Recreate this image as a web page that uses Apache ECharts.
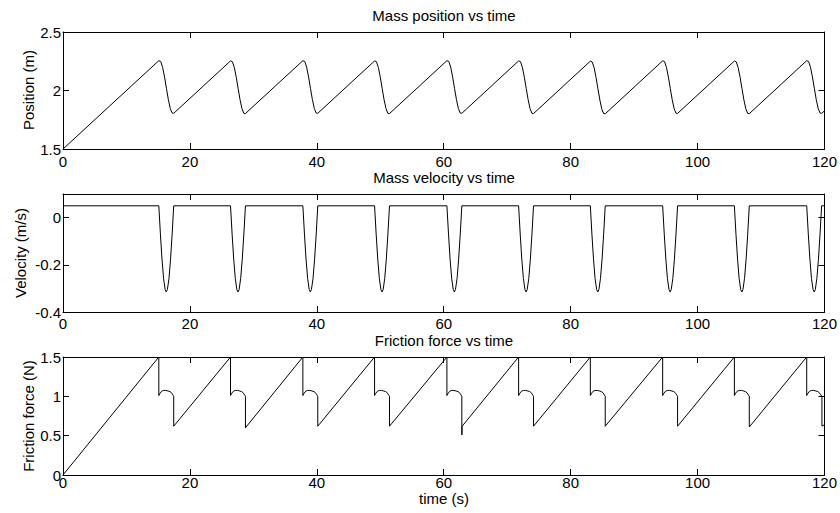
<!DOCTYPE html>
<html>
<head>
<meta charset="utf-8">
<script src="https://cdn.jsdelivr.net/npm/echarts@6/dist/echarts.min.js"></script>
<style>
html,body{margin:0;padding:0;background:#fff;}
#chart{width:840px;height:513px;}
</style>
</head>
<body>
<div id="chart"></div>
<script>
// ---- Data ----
const titles = ['Mass position vs time', 'Mass velocity vs time', 'Friction force vs time'];
const yNames = ['Position (m)', 'Velocity (m/s)', 'Friction force (N)'];
const xName = 'time (s)';
const xTicks = [0, 20, 40, 60, 80, 100, 120];
const posTicks = [1.5, 2, 2.5];
const velTicks = [-0.4, -0.2, 0];
const fricTicks = [0, 0.5, 1, 1.5];

// [time (s), position (m)]
const positionPoints = [
  [0,1.5],
  [15.1,2.255],[15.4,2.248],[15.7,2.198],[16.0,2.116],[16.3,2.018],[16.6,1.923],[16.9,1.847],[17.2,1.807],[17.45,1.805],
  [26.4,2.253],[26.7,2.246],[27.0,2.196],[27.3,2.114],[27.6,2.016],[27.9,1.921],[28.2,1.845],[28.5,1.805],[28.75,1.803],
  [37.8,2.255],[38.1,2.248],[38.4,2.198],[38.7,2.116],[39.0,2.018],[39.3,1.923],[39.6,1.847],[39.9,1.807],[40.15,1.805],
  [49.1,2.253],[49.4,2.246],[49.7,2.196],[50.0,2.114],[50.3,2.016],[50.6,1.921],[50.9,1.845],[51.2,1.805],[51.45,1.803],
  [60.5,2.255],[60.8,2.248],[61.1,2.198],[61.4,2.116],[61.7,2.018],[62.0,1.923],[62.3,1.847],[62.6,1.807],[62.85,1.805],
  [71.8,2.253],[72.1,2.246],[72.4,2.196],[72.7,2.114],[73.0,2.016],[73.3,1.921],[73.6,1.845],[73.9,1.805],[74.15,1.803],
  [83.1,2.251],[83.4,2.244],[83.7,2.194],[84.0,2.112],[84.3,2.014],[84.6,1.919],[84.9,1.843],[85.2,1.803],[85.45,1.801],
  [94.5,2.254],[94.8,2.247],[95.1,2.197],[95.4,2.115],[95.7,2.017],[96.0,1.922],[96.3,1.846],[96.6,1.806],[96.85,1.804],
  [105.8,2.252],[106.1,2.245],[106.4,2.195],[106.7,2.113],[107.0,2.015],[107.3,1.920],[107.6,1.844],[107.9,1.804],[108.15,1.802],
  [117.2,2.255],[117.5,2.248],[117.8,2.198],[118.1,2.116],[118.4,2.018],[118.7,1.923],[119.0,1.847],[119.3,1.807],[119.55,1.805],
  [120,1.826]
];

// [time (s), velocity (m/s)]
const velocityPoints = [
  [0,0.05],
  [15.1,0.05],[15.35,-0.070],[15.6,-0.176],[15.85,-0.258],[16.1,-0.305],[16.275,-0.315],[16.45,-0.305],[16.7,-0.258],[16.95,-0.176],[17.2,-0.070],[17.45,0.05],
  [26.4,0.05],[26.65,-0.070],[26.9,-0.176],[27.15,-0.258],[27.4,-0.305],[27.575,-0.315],[27.75,-0.305],[28.0,-0.258],[28.25,-0.176],[28.5,-0.070],[28.75,0.05],
  [37.8,0.05],[38.05,-0.070],[38.3,-0.176],[38.55,-0.258],[38.8,-0.305],[38.975,-0.315],[39.15,-0.305],[39.4,-0.258],[39.65,-0.176],[39.9,-0.070],[40.15,0.05],
  [49.1,0.05],[49.35,-0.070],[49.6,-0.176],[49.85,-0.258],[50.1,-0.305],[50.275,-0.315],[50.45,-0.305],[50.7,-0.258],[50.95,-0.176],[51.2,-0.070],[51.45,0.05],
  [60.5,0.05],[60.75,-0.070],[61.0,-0.176],[61.25,-0.258],[61.5,-0.305],[61.675,-0.315],[61.85,-0.305],[62.1,-0.258],[62.35,-0.176],[62.6,-0.070],[62.85,0.05],
  [71.8,0.05],[72.05,-0.070],[72.3,-0.176],[72.55,-0.258],[72.8,-0.305],[72.975,-0.315],[73.15,-0.305],[73.4,-0.258],[73.65,-0.176],[73.9,-0.070],[74.15,0.05],
  [83.1,0.05],[83.35,-0.070],[83.6,-0.176],[83.85,-0.258],[84.1,-0.305],[84.275,-0.315],[84.45,-0.305],[84.7,-0.258],[84.95,-0.176],[85.2,-0.070],[85.45,0.05],
  [94.5,0.05],[94.75,-0.070],[95.0,-0.176],[95.25,-0.258],[95.5,-0.305],[95.675,-0.315],[95.85,-0.305],[96.1,-0.258],[96.35,-0.176],[96.6,-0.070],[96.85,0.05],
  [105.8,0.05],[106.05,-0.070],[106.3,-0.176],[106.55,-0.258],[106.8,-0.305],[106.975,-0.315],[107.15,-0.305],[107.4,-0.258],[107.65,-0.176],[107.9,-0.070],[108.15,0.05],
  [117.2,0.05],[117.45,-0.070],[117.7,-0.176],[117.95,-0.258],[118.2,-0.305],[118.375,-0.315],[118.55,-0.305],[118.8,-0.258],[119.05,-0.176],[119.3,-0.070],[119.55,0.05],
  [120,0.05]
];

// [time (s), friction force (N)]
const frictionPoints = [
  [0,0],
  [15.1,1.5],[15.1,1.01],[15.3,1.04],[15.55,1.065],[15.85,1.075],[16.2,1.075],[16.55,1.068],[16.85,1.06],[17.1,1.045],[17.3,1.02],[17.45,1.0],[17.45,0.62],
  [26.4,1.5],[26.4,1.01],[26.6,1.04],[26.85,1.065],[27.15,1.075],[27.5,1.075],[27.85,1.068],[28.15,1.06],[28.4,1.045],[28.6,1.02],[28.75,1.0],[28.75,0.60],
  [37.8,1.5],[37.8,1.01],[38.0,1.04],[38.25,1.065],[38.55,1.075],[38.9,1.075],[39.25,1.068],[39.55,1.06],[39.8,1.045],[40.0,1.02],[40.15,1.0],[40.15,0.62],
  [49.1,1.5],[49.1,1.01],[49.3,1.04],[49.55,1.065],[49.85,1.075],[50.2,1.075],[50.55,1.068],[50.85,1.06],[51.1,1.045],[51.3,1.02],[51.45,1.0],[51.45,0.62],
  [60.5,1.5],[60.5,1.01],[60.7,1.04],[60.95,1.065],[61.25,1.075],[61.6,1.075],[61.95,1.068],[62.25,1.06],[62.5,1.045],[62.7,1.02],[62.85,1.0],[62.85,0.51],[62.9,0.62],
  [71.8,1.5],[71.8,1.01],[72.0,1.04],[72.25,1.065],[72.55,1.075],[72.9,1.075],[73.25,1.068],[73.55,1.06],[73.8,1.045],[74.0,1.02],[74.15,1.0],[74.15,0.62],
  [83.1,1.5],[83.1,1.01],[83.3,1.04],[83.55,1.065],[83.85,1.075],[84.2,1.075],[84.55,1.068],[84.85,1.06],[85.1,1.045],[85.3,1.02],[85.45,1.0],[85.45,0.62],
  [94.5,1.5],[94.5,1.01],[94.7,1.04],[94.95,1.065],[95.25,1.075],[95.6,1.075],[95.95,1.068],[96.25,1.06],[96.5,1.045],[96.7,1.02],[96.85,1.0],[96.85,0.62],
  [105.8,1.5],[105.8,1.01],[106.0,1.04],[106.25,1.065],[106.55,1.075],[106.9,1.075],[107.25,1.068],[107.55,1.06],[107.8,1.045],[108.0,1.02],[108.15,1.0],[108.15,0.61],
  [117.2,1.5],[117.2,1.01],[117.4,1.04],[117.65,1.065],[117.95,1.075],[118.3,1.075],[118.65,1.068],[118.95,1.06],[119.2,1.045],[119.4,1.02],[119.6,1.0],[119.6,0.62],
  [120,0.64]
];

// ---- Chart ----
const FONT = '"Liberation Sans", Arial, Helvetica, sans-serif';
const chart = echarts.init(document.getElementById('chart'), null, {renderer: 'svg', width: 840, height: 513});

const gridDefs = [
  {left: 63, right: 15, top: 32, height: 117},
  {left: 63, right: 15, top: 194, height: 118},
  {left: 63, right: 15, top: 357, height: 118}
];
const yRanges = [
  {min: 1.5, max: 2.5, interval: 0.5, ticks: posTicks},
  {min: -0.4, max: 0.1, interval: 0.2, ticks: velTicks},
  {min: 0, max: 1.5, interval: 0.5, ticks: fricTicks}
];
const xLabelMargins = [5, 4, 0];

const axisLine = {show: true, onZero: false, lineStyle: {color: '#000', width: 1}};
const axisTick = {show: true, inside: true, length: 6, lineStyle: {color: '#000', width: 1}};

const xAxes = [], yAxes = [];
gridDefs.forEach((g, i) => {
  xAxes.push({
    type: 'value', gridIndex: i, position: 'bottom',
    min: xTicks[0], max: xTicks[xTicks.length - 1], interval: xTicks[1] - xTicks[0],
    axisLine, axisTick, splitLine: {show: false},
    axisLabel: {color: '#000', fontSize: 15, fontFamily: FONT, margin: xLabelMargins[i]}
  });
  xAxes.push({
    type: 'value', gridIndex: i, position: 'top',
    min: xTicks[0], max: xTicks[xTicks.length - 1], interval: xTicks[1] - xTicks[0],
    axisLine, axisTick, splitLine: {show: false}, axisLabel: {show: false}
  });
  const r = yRanges[i];
  yAxes.push({
    type: 'value', gridIndex: i, position: 'left',
    min: r.min, max: r.max, interval: r.interval,
    axisLine, axisTick, splitLine: {show: false},
    axisLabel: {
      color: '#000', fontSize: 15, fontFamily: FONT, margin: 2,
      formatter: v => (r.ticks.some(t => Math.abs(t - v) < 1e-9) ? String(Math.round(v * 100) / 100) : '')
    }
  });
  yAxes.push({
    type: 'value', gridIndex: i, position: 'right',
    min: r.min, max: r.max, interval: r.interval,
    axisLine, axisTick, splitLine: {show: false}, axisLabel: {show: false}
  });
});

const seriesData = [positionPoints, velocityPoints, frictionPoints];
const series = seriesData.map((d, i) => ({
  type: 'line', xAxisIndex: 2 * i, yAxisIndex: 2 * i,
  data: d, showSymbol: false, symbol: 'none',
  lineStyle: {color: '#000', width: 1}, silent: true, animation: false
}));

const textStyle = {fill: '#000', font: '15px ' + FONT, align: 'center', verticalAlign: 'middle'};
const graphic = [
  {type: 'text', x: 444, y: 15, style: Object.assign({text: titles[0]}, textStyle)},
  {type: 'text', x: 444, y: 177, style: Object.assign({text: titles[1]}, textStyle)},
  {type: 'text', x: 444, y: 340, style: Object.assign({text: titles[2]}, textStyle)},
  {type: 'text', x: 444, y: 498, style: Object.assign({text: xName}, textStyle)},
  {type: 'text', x: 28, y: 90, rotation: Math.PI / 2, style: Object.assign({text: yNames[0]}, textStyle)},
  {type: 'text', x: 20, y: 253, rotation: Math.PI / 2, style: Object.assign({text: yNames[1]}, textStyle)},
  {type: 'text', x: 28, y: 416, rotation: Math.PI / 2, style: Object.assign({text: yNames[2]}, textStyle)}
];

chart.setOption({
  animation: false,
  backgroundColor: '#fff',
  grid: gridDefs,
  xAxis: xAxes,
  yAxis: yAxes,
  series,
  graphic
});
</script>
</body>
</html>
